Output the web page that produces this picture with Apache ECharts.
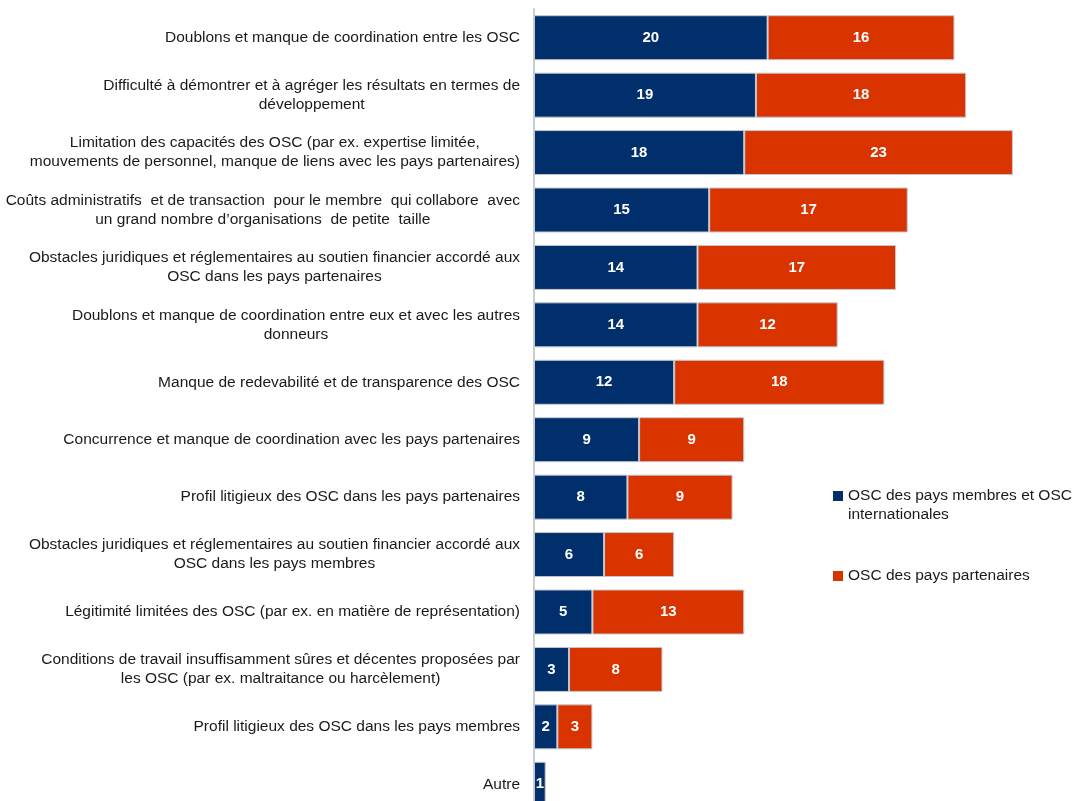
<!DOCTYPE html>
<html>
<head>
<meta charset="utf-8">
<script src="https://cdn.jsdelivr.net/npm/echarts@6/dist/echarts.min.js"></script>
<style>
  html, body { margin: 0; padding: 0; background: #ffffff; }
  #chart { width: 1078px; height: 801px; }
</style>
</head>
<body>
<div id="chart"></div>
<script>
// Obstacles cited, top to bottom
const categories = [
  "Doublons et manque de coordination entre les OSC",
  "Difficulté à démontrer et à agréger les résultats en termes de\ndéveloppement",
  "Limitation des capacités des OSC (par ex. expertise limitée,\nmouvements de personnel, manque de liens avec les pays partenaires)",
  "Coûts administratifs  et de transaction  pour le membre  qui collabore  avec\nun grand nombre d’organisations  de petite  taille",
  "Obstacles juridiques et réglementaires au soutien financier accordé aux\nOSC dans les pays partenaires",
  "Doublons et manque de coordination entre eux et avec les autres\ndonneurs",
  "Manque de redevabilité et de transparence des OSC",
  "Concurrence et manque de coordination avec les pays partenaires",
  "Profil litigieux des OSC dans les pays partenaires",
  "Obstacles juridiques et réglementaires au soutien financier accordé aux\nOSC dans les pays membres",
  "Légitimité limitées des OSC (par ex. en matière de représentation)",
  "Conditions de travail insuffisamment sûres et décentes proposées par\nles OSC (par ex. maltraitance ou harcèlement)",
  "Profil litigieux des OSC dans les pays membres",
  "Autre"
];

const seriesNames = [
  "OSC des pays membres et OSC\ninternationales",
  "OSC des pays partenaires"
];

const membresValues     = [20, 19, 18, 15, 14, 14, 12, 9, 8, 6, 5, 3, 2, 1];
const partenairesValues = [16, 18, 23, 17, 17, 12, 18, 9, 9, 6, 13, 8, 3, null];

const FONT = "'Liberation Sans', Arial, sans-serif";
const NAVY = "#002f6c";
const RED = "#d93300";
const TEXT = "#1a1a1a";

const chart = echarts.init(document.getElementById('chart'), null, { renderer: 'canvas' });

const barLabel = {
  show: true,
  position: 'inside',
  color: '#ffffff',
  fontWeight: 'bold',
  fontSize: 15,
  fontFamily: FONT
};

// Two-line legend entry: a blank first line keeps the marker level with the first text line
function legendTwoLines(name) {
  return '{e| }\n' + name.split('\n').map(function (l) { return '{t|' + l + '}'; }).join('\n');
}
const legendRich = {
  e: { fontSize: 15.5, lineHeight: 19 },
  t: { fontSize: 15.5, lineHeight: 19, color: TEXT, fontFamily: FONT }
};

chart.setOption({
  animation: false,
  backgroundColor: '#ffffff',
  grid: { left: 534, top: 9, width: 525.6, height: 804, outerBoundsMode: 'none', containLabel: false },
  xAxis: {
    type: 'value',
    min: 0,
    max: 45,
    show: false
  },
  yAxis: {
    type: 'category',
    data: categories,
    inverse: true,
    axisLine: { show: true, lineStyle: { color: '#c9ccd3', width: 2 } },
    axisTick: { show: false },
    splitLine: { show: false },
    axisLabel: {
      margin: 14,
      interval: 0,
      formatter: function (v) {
        return v.split('\n').map(function (l) { return '{c|' + l + '}'; }).join('\n');
      },
      rich: {
        c: {
          align: 'center',
          fontSize: 15.5,
          lineHeight: 19,
          color: TEXT,
          fontFamily: FONT
        }
      }
    }
  },
  legend: [
    {
      data: [seriesNames[0]],
      orient: 'vertical',
      left: 833,
      top: 469,
      padding: 0,
      itemWidth: 10,
      itemHeight: 10,
      icon: 'rect',
      itemStyle: { borderWidth: 0 },
      formatter: legendTwoLines,
      textStyle: { rich: legendRich }
    },
    {
      data: [seriesNames[1]],
      orient: 'vertical',
      left: 833,
      top: 568,
      padding: 0,
      itemWidth: 10,
      itemHeight: 10,
      icon: 'rect',
      itemStyle: { borderWidth: 0 },
      textStyle: { fontSize: 15.5, color: TEXT, fontFamily: FONT }
    }
  ],
  series: [
    {
      name: seriesNames[0],
      type: 'bar',
      stack: 'total',
      barWidth: 45,
      data: membresValues,
      itemStyle: { color: NAVY, borderColor: '#c4c8d0', borderWidth: 1 },
      label: barLabel
    },
    {
      name: seriesNames[1],
      type: 'bar',
      stack: 'total',
      barWidth: 45,
      data: partenairesValues,
      itemStyle: { color: RED, borderColor: '#c4c8d0', borderWidth: 1 },
      label: barLabel
    }
  ]
});
</script>
</body>
</html>
